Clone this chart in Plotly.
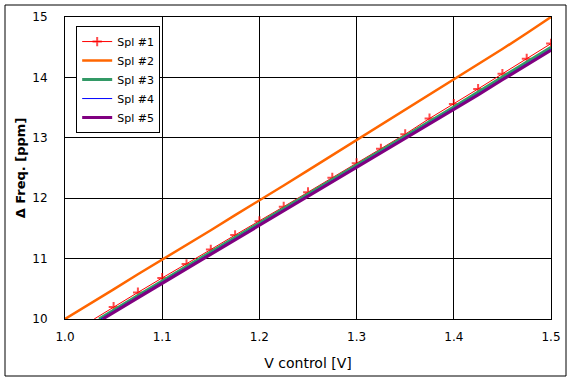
import plotly.graph_objects as go

# Data
x1 = [1.030, 1.050, 1.075, 1.100, 1.125, 1.150, 1.175, 1.200, 1.225, 1.250, 1.275,
      1.300, 1.325, 1.350, 1.375, 1.400, 1.425, 1.450, 1.475, 1.500]
y1 = [10.00, 10.20, 10.44, 10.68, 10.91, 11.15, 11.39, 11.62, 11.86, 12.10, 12.34,
      12.58, 12.82, 13.06, 13.32, 13.56, 13.81, 14.06, 14.31, 14.56]

x2 = [1.000, 1.025, 1.050, 1.075, 1.100, 1.125, 1.150, 1.175, 1.200, 1.225, 1.250,
      1.275, 1.300, 1.325, 1.350, 1.375, 1.400, 1.425, 1.450, 1.475, 1.500]
y2 = [10.00, 10.24, 10.49, 10.74, 10.98, 11.23, 11.47, 11.72, 11.96, 12.21, 12.46,
      12.71, 12.96, 13.21, 13.46, 13.71, 13.97, 14.22, 14.47, 14.73, 15.00]

x3 = [1.035, 1.050, 1.075, 1.100, 1.125, 1.150, 1.175, 1.200, 1.225, 1.250, 1.275,
      1.300, 1.325, 1.350, 1.375, 1.400, 1.425, 1.450, 1.475, 1.500]
y3 = [10.00, 10.15, 10.39, 10.63, 10.87, 11.11, 11.35, 11.58, 11.82, 12.06, 12.30,
      12.54, 12.78, 13.02, 13.27, 13.51, 13.76, 14.01, 14.25, 14.50]

x4 = [1.037, 1.050, 1.075, 1.100, 1.125, 1.150, 1.175, 1.200, 1.225, 1.250, 1.275,
      1.300, 1.325, 1.350, 1.375, 1.400, 1.425, 1.450, 1.475, 1.500]
y4 = [10.00, 10.13, 10.37, 10.61, 10.85, 11.09, 11.33, 11.56, 11.80, 12.04, 12.28,
      12.52, 12.76, 13.00, 13.25, 13.49, 13.73, 13.98, 14.22, 14.47]

x5 = [1.039, 1.050, 1.075, 1.100, 1.125, 1.150, 1.175, 1.200, 1.225, 1.250, 1.275,
      1.300, 1.325, 1.350, 1.375, 1.400, 1.425, 1.450, 1.475, 1.500]
y5 = [10.00, 10.11, 10.35, 10.59, 10.83, 11.07, 11.31, 11.54, 11.78, 12.02, 12.26,
      12.50, 12.74, 12.98, 13.23, 13.47, 13.71, 13.96, 14.20, 14.45]

names = ["Spl #1", "Spl #2", "Spl #3", "Spl #4", "Spl #5"]
x_ticks = [1.0, 1.1, 1.2, 1.3, 1.4, 1.5]
x_tick_labels = ["1.0", "1.1", "1.2", "1.3", "1.4", "1.5"]
y_ticks = [10, 11, 12, 13, 14, 15]

FONT = "DejaVu Sans"

fig = go.Figure()

# Spl #1: thin red line with + markers (no marker on the first point)
fig.add_trace(go.Scatter(
    x=x1, y=y1, name=names[0], mode="lines+markers",
    line=dict(color="#ff0000", width=1),
    marker=dict(symbol="cross-thin", size=[0] + [7] * (len(x1) - 1),
                line=dict(color="#ff0000", width=2), color="#ff0000"),
))
fig.add_trace(go.Scatter(
    x=x2, y=y2, name=names[1], mode="lines",
    line=dict(color="#ff6600", width=2.5),
))
fig.add_trace(go.Scatter(
    x=x3, y=y3, name=names[2], mode="lines",
    line=dict(color="#339966", width=3),
))
fig.add_trace(go.Scatter(
    x=x4, y=y4, name=names[3], mode="lines",
    line=dict(color="#0000ff", width=1),
))
fig.add_trace(go.Scatter(
    x=x5, y=y5, name=names[4], mode="lines",
    line=dict(color="#800080", width=3),
))

fig.update_layout(
    width=571, height=382,
    margin=dict(l=65, r=20, t=17, b=63, autoexpand=False),
    paper_bgcolor="white", plot_bgcolor="white",
    font=dict(family=FONT, size=12, color="black"),
    showlegend=True,
    legend=dict(
        x=0.023, y=0.97, xanchor="left", yanchor="top",
        bgcolor="white", bordercolor="black", borderwidth=1,
        font=dict(family=FONT, size=11, color="black"),
        tracegroupgap=0, itemwidth=30,
    ),
    xaxis=dict(
        range=[1.0, 1.5], tickvals=x_ticks, ticktext=x_tick_labels,
        showgrid=True, gridcolor="black", gridwidth=1,
        showline=True, linecolor="black", linewidth=1, mirror=True,
        zeroline=False, ticks="", ticklabelstandoff=7, automargin=False,
        tickfont=dict(family=FONT, size=12, color="black"),
        title=dict(text="V control [V]", standoff=14,
                   font=dict(family=FONT, size=14, color="black")),
    ),
    yaxis=dict(
        range=[10, 15], tickvals=y_ticks,
        showgrid=True, gridcolor="black", gridwidth=1,
        showline=True, linecolor="black", linewidth=1, mirror=True,
        zeroline=False, ticks="", ticklabelstandoff=14, automargin=False,
        tickfont=dict(family=FONT, size=12, color="black"),
        title=dict(text="<b>Δ Freq. [ppm]</b>", standoff=3,
                   font=dict(family=FONT, size=13, color="black")),
    ),
    shapes=[dict(
        type="rect", xref="paper", yref="paper",
        x0=(5 - 65) / 486, x1=(566 - 65) / 486,
        y0=(319 - 376) / 302, y1=1 + (17 - 5) / 302,
        line=dict(color="black", width=1), fillcolor="rgba(0,0,0,0)",
        layer="below",
    )],
)

fig.write_html("out.html", config={"displayModeBar": False},
               post_script="document.body.style.margin='0';")
